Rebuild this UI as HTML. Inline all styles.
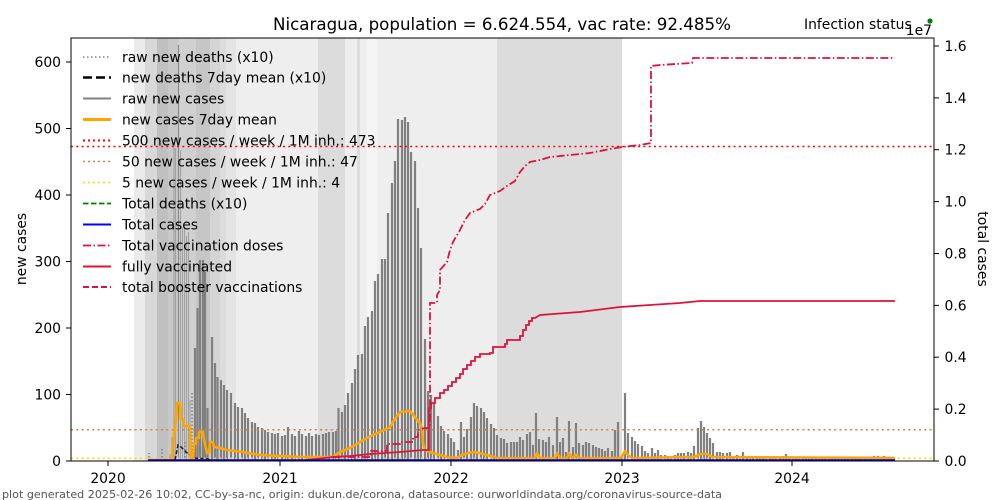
<!DOCTYPE html>
<html><head><meta charset="utf-8"><style>
html,body{margin:0;padding:0;background:#fff;}
svg{display:block;}
text{font-family:"DejaVu Sans","Liberation Sans",sans-serif;fill:#000;}
</style></head><body>
<svg width="1000" height="500" viewBox="0 0 1000 500" xmlns="http://www.w3.org/2000/svg">
<rect x="0" y="0" width="1000" height="500" fill="#fff"/>
<!-- bands -->
<g shape-rendering="crispEdges">
<rect x="134" y="38" width="11" height="423" fill="#ebebeb"/>
<rect x="145" y="38" width="12" height="423" fill="#d8d8d8"/>
<rect x="157" y="38" width="11" height="423" fill="#c0c0c0"/>
<rect x="168" y="38" width="10" height="423" fill="#c8c8c8"/>
<rect x="178" y="38" width="18" height="423" fill="#d0d0d0"/>
<rect x="196" y="38" width="14" height="423" fill="#c6c6c6"/>
<rect x="210" y="38" width="10" height="423" fill="#d4d4d4"/>
<rect x="220" y="38" width="6" height="423" fill="#dcdcdc"/>
<rect x="226" y="38" width="10" height="423" fill="#e4e4e4"/>
<rect x="236" y="38" width="82" height="423" fill="#eeeeee"/>
<rect x="318" y="38" width="27" height="423" fill="#dcdcdc"/>
<rect x="345" y="38" width="12" height="423" fill="#eeeeee"/>
<rect x="357" y="38" width="3" height="423" fill="#dcdcdc"/>
<rect x="360" y="38" width="7" height="423" fill="#eeeeee"/>
<rect x="367" y="38" width="10" height="423" fill="#f5f5f5"/>
<rect x="377" y="38" width="120" height="423" fill="#eeeeee"/>
<rect x="497" y="38" width="125" height="423" fill="#dcdcdc"/>
</g>
<!-- thin early bars -->
<path fill="none" stroke="#a2a2a2" stroke-width="1.1" d="M149 461V459M162 461V458M170 461V454M172 461V437M174 461V142M175.5 461V148M180.5 461V150M182.5 461V227M184.5 461V229M186.5 461V236M188.5 461V232M190 461V400"/>
<path fill="none" stroke="#888" stroke-width="1.1" d="M178.5 461V45"/>
<!-- weekly bars -->
<path fill="none" stroke="#808080" stroke-width="2.2" d="M195 461V348M197.5 461V308M200 461V260M203 461V260M205 461V272M207.5 461V408M212 461V337M215 461V363M217.5 461V377M221 461V380M224 461V385M227 461V390M231 461V393M235 461V403M238 461V407M242 461V408M245 461V413M248 461V418M252 461V422M255 461V423M258 461V427M262 461V428M265 461V430M268 461V432M272 461V433M275 461V434M278 461V433M282 461V436M285 461V435M288 461V427M292 461V434M295 461V436M299 461V431M302 461V434M306 461V436M309 461V433M312 461V436M316 461V434M319 461V435M323 461V434M326 461V433M329 461V432M333 461V432M336 461V431M338.5 461V408M342 461V412M345 461V405M348 461V393M352 461V383M355 461V369M358 461V355M362 461V354M365 461V326M368 461V317M372 461V311M375 461V281M378 461V274M382 461V259M385 461V259M388 461V213M392 461V183M395 461V161M398 461V119M402 461V120M405 461V117M408 461V122M411 461V152M415 461V161M418 461V208M421 461V248M425 461V339M428 461V391M431 461V395M434 461V403M438 461V416M441 461V426M444 461V431M448 461V434M451 461V438M454 461V442M458 461V450M461 461V422M464 461V437M467 461V429M471 461V417M474 461V403M477 461V406M481 461V408M484 461V412M487 461V418M491 461V424M494 461V428M497 461V435M501 461V438M504 461V439M507 461V443M511 461V442M514 461V442M517 461V442M520 461V437M523 461V440M527 461V434M530 461V432M533 461V445M536 461V413M539 461V439M543 461V440M546 461V442M549 461V437M553 461V445M557 461V417M560 461V442M563 461V438M566 461V452M569 461V421M573 461V447M576 461V423M579 461V443M583 461V445M586 461V442M589 461V443M593 461V445M596 461V447M599 461V448M602 461V449M605 461V451M608 461V448M612 461V451M615 461V430M618 461V422M622 461V455M625 461V393M628 461V433M632 461V437M635 461V441M638 461V444M642 461V446M645 461V451M648 461V453M652 461V448M655 461V453M658 461V450M661 461V455M665 461V455M668 461V456M671 461V457M675 461V455M678 461V453M681 461V453M684 461V453M688 461V452M691 461V453M694 461V446M698 461V428M701 461V421M704 461V427M707 461V433M710 461V438M713 461V443M717 461V452M720 461V452M723 461V453M727 461V453M730 461V452M733 461V456M737 461V455M740 461V457M743 461V452M747 461V457M750 461V457M753 461V458M757 461V457M760 461V456M763 461V458M766 461V457M770 461V458M773 461V457M776 461V458M780 461V457M783 461V456M786 461V454M789 461V457M793 461V458M796 461V457M799 461V458M803 461V457M806 461V458M809 461V458M812 461V457M816 461V458M819 461V458M822 461V457M825 461V458M829 461V458M832 461V458M835 461V457M838 461V458M842 461V458M845 461V458M848 461V458M852 461V458M855 461V458M858 461V458M861 461V458M865 461V458M868 461V458M871 461V458M874 461V456M878 461V456M881 461V457M884 461V456M888 461V457M891 461V457M894 461V458"/>
<!-- deaths dotted -->
<path fill="none" stroke="#808080" stroke-width="1.5" stroke-dasharray="1.5,2" d="M149 461V453M162 461V447M185 461V440M192 461V393"/>
<path fill="none" stroke="#222" stroke-width="1.5" stroke-dasharray="4,2" d="M175 460L178 445L181 447L186 452L195 458L210 459"/>
<!-- reference lines -->
<line x1="71" y1="146.5" x2="934" y2="146.5" stroke="#ff0000" stroke-width="1.5" stroke-dasharray="2,3.3"/>
<line x1="71" y1="429.7" x2="934" y2="429.7" stroke="#cd853f" stroke-width="1.5" stroke-dasharray="2,3.3"/>
<line x1="71" y1="458.3" x2="934" y2="458.3" stroke="#ffd700" stroke-width="1.5" stroke-dasharray="2,3.3"/>
<!-- orange 7day mean -->
<path fill="none" stroke="#ffa500" stroke-width="2.6" stroke-linejoin="round" d="M148 460L170 460L172 457L174 435L176 420L177 403L180 403L181 419L183 419L184 426L190 426L191 460L193 460L194 444L196 444L196 438L199 438L199 432L203 432L204 440L207 453L209 453L210 442L213 442L214 447L220 448L227 450L243 452L260 455L280 456L300 457L333 457L340 452L350 448L357 444L363 440L373 435L380 432L390 427L393 422L400 412L410 411L415 417L420 423L422 428L423 443L425 450L433 453L447 457L457 458L462 455L468 453L475 452L487 455L497 458L535 458L537 453L540 458L555 458L557 453L560 458L567 458L569 453L572 458L576 455L580 458L620 458L623 455L625 451L628 455L632 458L695 457L700 454L707 454L712 457L895 458"/>
<!-- vaccination lines -->
<path fill="none" stroke="#dc143c" stroke-width="1.8" stroke-dasharray="8,2.5,1.5,2.5" d="M333 457L371 457L371 451L387 451L387 444L400 444L400 442L413 442L413 437L418 437L418 430L425 428L430 428L430 303L437 303L437 295L440 290L440 270L447 262L450 250L453 242L460 230L465 220L470 213L475 211L480 209L485 204L490 195L500 191L507 186L515 181L520 172L525 166L530 162L540 160L550 157L570 155L590 153L610 149L622 147L640 145L651 143L651 66L660 65L692 63L693 58L895 58"/>
<path fill="none" stroke="#dc143c" stroke-width="1.8" d="M307 460L333 457L350 456L370 454L400 452L423 450L429 450L429 408L431 408L431 403L435 403L435 398L440 398L440 393L444 393L444 390L448 390L448 386L452 386L452 382L456 382L456 378L460 378L460 374L463 374L463 369L467 369L467 365L471 365L471 361L475 361L475 357L480 357L480 354L490 354L490 353L493 353L493 347L505 347L505 344L507 344L507 340L520 340L520 336L523 336L523 330L526 330L526 325L529 325L529 321L532 321L532 318L535 318L540 315L580 312L620 307L680 303L700 301L895 301"/>
<!-- total cases -->
<line x1="148" y1="460.3" x2="895" y2="460.3" stroke="#0000ff" stroke-width="2"/>
<!-- axes frame -->
<rect x="71" y="38" width="863" height="423" fill="none" stroke="#000" stroke-width="1"/>
<!-- ticks -->
<g stroke="#000" stroke-width="1">
<line x1="66" y1="461" x2="71" y2="461"/><line x1="66" y1="394.5" x2="71" y2="394.5"/><line x1="66" y1="328" x2="71" y2="328"/><line x1="66" y1="261.5" x2="71" y2="261.5"/><line x1="66" y1="195" x2="71" y2="195"/><line x1="66" y1="128.5" x2="71" y2="128.5"/><line x1="66" y1="62" x2="71" y2="62"/>
<line x1="934" y1="461" x2="939" y2="461"/><line x1="934" y1="409.1" x2="939" y2="409.1"/><line x1="934" y1="357.2" x2="939" y2="357.2"/><line x1="934" y1="305.4" x2="939" y2="305.4"/><line x1="934" y1="253.5" x2="939" y2="253.5"/><line x1="934" y1="201.6" x2="939" y2="201.6"/><line x1="934" y1="149.7" x2="939" y2="149.7"/><line x1="934" y1="97.9" x2="939" y2="97.9"/><line x1="934" y1="46" x2="939" y2="46"/>
<line x1="108" y1="461" x2="108" y2="466"/><line x1="280" y1="461" x2="280" y2="466"/><line x1="451" y1="461" x2="451" y2="466"/><line x1="622" y1="461" x2="622" y2="466"/><line x1="792" y1="461" x2="792" y2="466"/>
</g>
<g font-size="13.9" text-anchor="end">
<text x="61" y="466">0</text><text x="61" y="399.5">100</text><text x="61" y="333">200</text><text x="61" y="266.5">300</text><text x="61" y="200">400</text><text x="61" y="133.5">500</text><text x="61" y="67">600</text>
</g>
<g font-size="13.9">
<text x="944.5" y="466">0.0</text><text x="944.5" y="414">0.2</text><text x="944.5" y="362">0.4</text><text x="944.5" y="310.5">0.6</text><text x="944.5" y="258.5">0.8</text><text x="944.5" y="206.5">1.0</text><text x="944.5" y="154.7">1.2</text><text x="944.5" y="103">1.4</text><text x="944.5" y="51">1.6</text>
</g>
<g font-size="13.9" text-anchor="middle">
<text x="108" y="483">2020</text><text x="280" y="483">2021</text><text x="451" y="483">2022</text><text x="622" y="483">2023</text><text x="792" y="483">2024</text>
</g>
<text x="0" y="0" font-size="13.9" text-anchor="middle" transform="translate(26,249) rotate(-90)">new cases</text>
<text x="0" y="0" font-size="13.9" text-anchor="middle" transform="translate(978,249) rotate(90)">total cases</text>
<text x="932" y="35" font-size="13.9" text-anchor="end">1e7</text>
<!-- title -->
<text x="502" y="30" font-size="16.5" text-anchor="middle" textLength="458" lengthAdjust="spacingAndGlyphs">Nicaragua, population = 6.624.554, vac rate: 92.485%</text>
<text x="804" y="29" font-size="13.9">Infection status</text>
<circle cx="930" cy="21" r="2.6" fill="#008000"/>
<!-- legend -->
<g fill="none">
<line x1="83" y1="57" x2="111" y2="57" stroke="#808080" stroke-width="1.5" stroke-dasharray="1.5,2.5"/>
<line x1="83" y1="77.5" x2="111" y2="77.5" stroke="#000" stroke-width="2.5" stroke-dasharray="9,4"/>
<line x1="83" y1="98.5" x2="111" y2="98.5" stroke="#808080" stroke-width="2"/>
<line x1="83" y1="119.5" x2="111" y2="119.5" stroke="#ffa500" stroke-width="3"/>
<line x1="83" y1="140.5" x2="111" y2="140.5" stroke="#ff0000" stroke-width="2" stroke-dasharray="2,3"/>
<line x1="83" y1="161.5" x2="111" y2="161.5" stroke="#cd853f" stroke-width="1.5" stroke-dasharray="2,3"/>
<line x1="83" y1="182.5" x2="111" y2="182.5" stroke="#ffd700" stroke-width="1.5" stroke-dasharray="2,3"/>
<line x1="83" y1="203.5" x2="111" y2="203.5" stroke="#008000" stroke-width="1.8" stroke-dasharray="5.5,2.5"/>
<line x1="83" y1="224.5" x2="111" y2="224.5" stroke="#0000ff" stroke-width="2"/>
<line x1="83" y1="245.5" x2="111" y2="245.5" stroke="#dc143c" stroke-width="1.8" stroke-dasharray="8,2.5,1.5,2.5"/>
<line x1="83" y1="266.5" x2="111" y2="266.5" stroke="#dc143c" stroke-width="2"/>
<line x1="83" y1="287" x2="111" y2="287" stroke="#dc143c" stroke-width="2" stroke-dasharray="6,3"/>
</g>
<g font-size="13.9">
<text x="122" y="62">raw new deaths (x10)</text>
<text x="122" y="82.5">new deaths 7day mean (x10)</text>
<text x="122" y="103.5">raw new cases</text>
<text x="122" y="124.5">new cases 7day mean</text>
<text x="122" y="145.5">500 new cases / week / 1M inh.: 473</text>
<text x="122" y="166.5">50 new cases / week / 1M inh.: 47</text>
<text x="122" y="187.5">5 new cases / week / 1M inh.: 4</text>
<text x="122" y="208.5">Total deaths (x10)</text>
<text x="122" y="229.5">Total cases</text>
<text x="122" y="250.5">Total vaccination doses</text>
<text x="122" y="271.5">fully vaccinated</text>
<text x="122" y="292">total booster vaccinations</text>
</g>
<!-- footer -->
<text x="2" y="498" font-size="10.5" style="fill:#555" textLength="720" lengthAdjust="spacingAndGlyphs">plot generated 2025-02-26 10:02, CC-by-sa-nc, origin: dukun.de/corona, datasource: ourworldindata.org/coronavirus-source-data</text>
</svg>
</body></html>
